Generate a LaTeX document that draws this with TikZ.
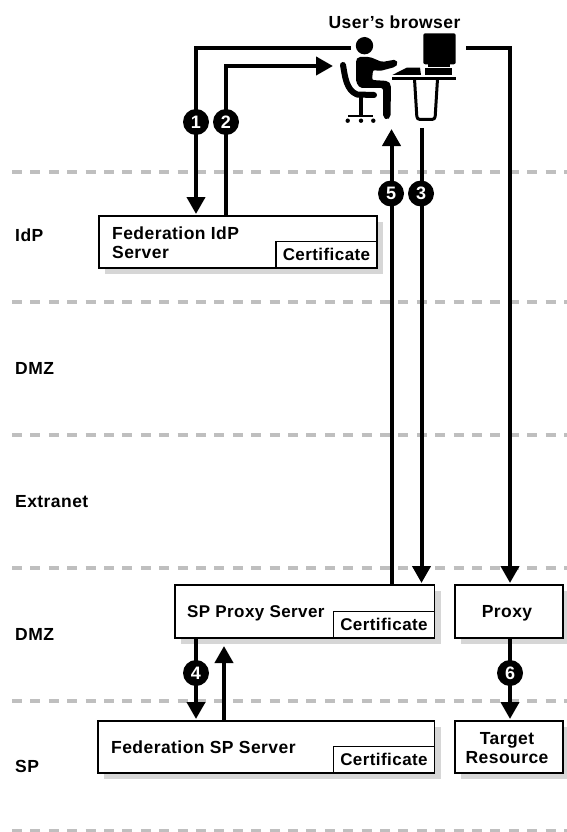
\documentclass[tikz,border=0pt]{standalone}
\usepackage{fontspec}
\setmainfont{Liberation Sans}[LetterSpace=2.5]
\usetikzlibrary{arrows.meta,calc}
\definecolor{zone}{gray}{0.75}
\definecolor{shade}{gray}{0.84}
\tikzset{
  x=1pt,y=-1pt,
  zoneline/.style={draw=zone,line width=3.5pt,dash pattern=on 10pt off 8.4pt},
  boxnode/.style={draw=black,line width=1.8pt,fill=white,minimum width=#1,inner sep=0pt,outer sep=0pt,anchor=north west,
    preaction={draw=none,fill=shade,transform canvas={shift={(6pt,-6pt)}}}},
  certnode/.style={draw=black,line width=1.8pt,fill=white,minimum width=101pt,minimum height=26.5pt,inner sep=0pt,outer sep=0pt,anchor=south east,font=\fontsize{17}{17}\selectfont\bfseries},
  label/.style={font=\fontsize{17.5}{19}\selectfont\bfseries,inner sep=0pt,align=left},
  flow/.style={line width=4pt,-{Triangle[length=17pt,width=18pt]}},
  badge/.style={circle,fill=black,text=white,minimum size=26pt,inner sep=0pt,font=\fontsize{18}{18}\selectfont\bfseries},
  icon/.style={line width=6pt,line cap=round,line join=round}
}
\begin{document}
\begin{tikzpicture}
\useasboundingbox (0,0) rectangle (567,832);
% zones
\foreach \y in {172,302,435,568,701,831}{\draw[zoneline] (12,\y) -- (567,\y);}
% zone labels
\node[label,anchor=west] (zidp) at (15,235) {IdP};
\node[label,anchor=west] (zdmza) at (15,368) {DMZ};
\node[label,anchor=west] (zext) at (15,501.5) {Extranet};
\node[label,anchor=west] (zdmzb) at (15,634) {DMZ};
\node[label,anchor=west] (zsp) at (15,766) {SP};
\node[label,anchor=center] (ubtitle) at (394.5,22) {User\symbol{39}s browser};
% boxes
\node[boxnode=278pt,minimum height=52pt] (idp) at (99,216) {};
\node[certnode] (idpc) at (377,268) {Certificate};
\node[label,anchor=north west] (idpt) at (112,226.5) {Federation IdP\\Server};
\node[boxnode=259.5pt,minimum height=53pt] (proxysrv) at (175,585) {};
\node[certnode] (proxyc) at (434.5,638) {Certificate};
\node[label,anchor=west,font=\fontsize{17}{19}\selectfont\bfseries] (proxyt) at (187,613) {SP Proxy Server};
\node[boxnode=108pt,minimum height=53pt] (prx) at (455,585) {};
\node[label] (prxt) at (507,613) {Proxy};
\node[boxnode=336.5pt,minimum height=52pt] (fedsp) at (98,721) {};
\node[certnode] (fedc) at (434.5,773) {Certificate};
\node[label,anchor=west] (fedt) at (111,747) {Federation SP Server};
\node[boxnode=108pt,minimum height=52pt] (target) at (455,721) {};
\node[label,align=center] (targett) at (507,748) {Target\\Resource};
% figure: person
\fill (364.5,45.7) circle (8.7);
\fill[rounded corners=2pt] (356,60) -- (358,57) -- (370,57) -- (382,62) -- (396,59.5) -- (398,64) -- (395,67) -- (380,71) -- (373,70) -- (372,80) -- (388,81) -- (391,85) -- (390.5,117) -- (387,120) -- (383,117) -- (383,88) -- (360,88) -- (356,82) -- cycle;
\draw[icon] (343,65) .. controls (345,76) and (346,90) .. (357,94.5) -- (374,95);
\draw[line width=3.3pt] (361,96) -- (361,116);
\draw[line width=2.5pt] (348,116) -- (373,116);
\foreach \cx in {347.7,361,373.3}{\fill (\cx,120.7) circle (2.2);}
% figure: computer
\fill[rounded corners=2pt] (423.3,33.3) rectangle (455.7,64.3);
\fill (428,64) rectangle (450,67);
\fill (425,68) rectangle (452,75);
\fill (392.3,75) -- (406.7,67.7) -- (420,67.7) -- (421,75) -- cycle;
\draw[line width=2.6pt] (392.3,78.3) -- (455.5,78.3);
\draw[line width=3pt,rounded corners=3pt] (414.5,79) -- (417,119.5) -- (435,119.5) -- (437.5,79);
% anchors on the figure
\coordinate (uleft) at (351,48);
\coordinate (uin) at (333,66);
\coordinate (ubelowa) at (391.5,129);
\coordinate (ubelowb) at (421.5,128);
\coordinate (uright) at (466,48);
% connectors
\draw[flow] (uleft) -| (196,214);
\draw[flow] (idp.north west -| 226,216) |- (uin);
\draw[flow] (proxysrv.north -| ubelowa) -- (ubelowa);
\draw[flow] (ubelowb) -- (ubelowb |- 0,583);
\draw[flow] (uright) -| (510,583);
\draw[flow] (196,638) -- (196,719);
\draw[flow] (224,721) -- (224,646);
\draw[flow] (510,638) -- (510,719);
% badges
\node[badge] (b1) at (196,122) {1};
\node[badge] (b2) at (226,122) {2};
\node[badge] (b5) at (391,193.5) {5};
\node[badge] (b3) at (421,193.5) {3};
\node[badge] (b4) at (196,673) {4};
\node[badge] (b6) at (510,673) {6};
\end{tikzpicture}
\end{document}
